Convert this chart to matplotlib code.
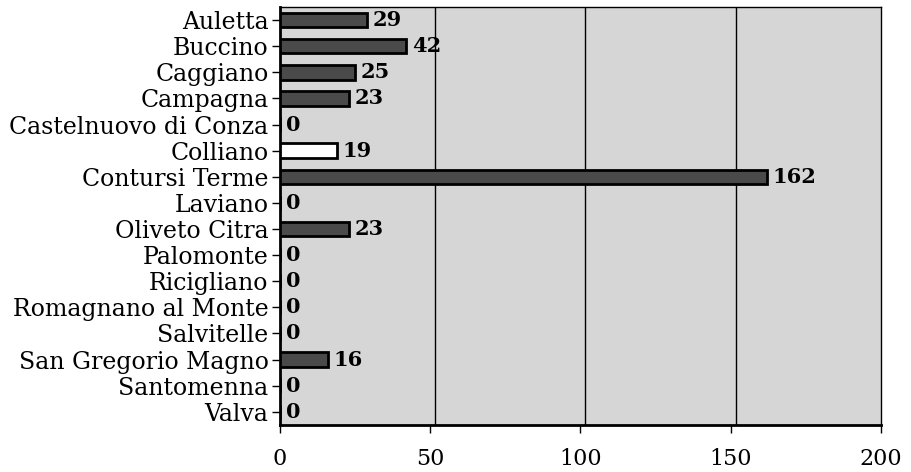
import matplotlib
matplotlib.use("Agg")
import matplotlib.pyplot as plt
import matplotlib.transforms as mtrans
import numpy as np

# dati
comuni = ["Auletta", "Buccino", "Caggiano", "Campagna", "Castelnuovo di Conza",
          "Colliano", "Contursi Terme", "Laviano", "Oliveto Citra", "Palomonte",
          "Ricigliano", "Romagnano al Monte", "Salvitelle", "San Gregorio Magno",
          "Santomenna", "Valva"]
valori = [29, 42, 25, 23, 0, 19, 162, 0, 23, 0, 0, 0, 0, 16, 0, 0]
x_ticks = [0, 50, 100, 150, 200]

plt.rcParams["font.family"] = ["DejaVu Serif"]

fig = plt.figure(figsize=(9.11, 4.72), dpi=100)
ax = fig.add_axes([0.307, 0.10, 0.660, 0.885])

y = np.arange(len(comuni))
colori = ["#4a4a4a"] * len(comuni)
colori[comuni.index("Colliano")] = "white"

ax.set_facecolor("#d6d6d6")
ax.set_xlim(0, 200)
ax.set_ylim(len(comuni) - 0.5, -0.5)

# griglia verticale (parete di fondo leggermente spostata)
sposta = mtrans.ScaledTranslation(5 / 100, 0, fig.dpi_scale_trans)
for t in x_ticks[1:-1]:
    ax.plot([t, t], [0, 1], color="black", lw=1.0,
            transform=ax.get_xaxis_transform() + sposta, zorder=1)

# barre
ax.barh(y, valori, height=0.55, color=colori, edgecolor="black", linewidth=2, zorder=3)
for yi, v in zip(y, valori):
    ax.text(v + 2, yi, str(v), va="center", ha="left", fontsize=15,
            fontweight="bold", zorder=4)

ax.set_yticks(y)
ax.set_yticklabels(comuni, fontsize=17)
ax.set_xticks(x_ticks)
ax.set_xticklabels([str(t) for t in x_ticks], fontsize=16)
ax.tick_params(axis="x", length=6, width=1, pad=11)
ax.tick_params(axis="y", length=6, width=1, pad=2)

for lato in ["left", "bottom"]:
    ax.spines[lato].set_linewidth(2)
for lato in ["top", "right"]:
    ax.spines[lato].set_linewidth(1)

fig.savefig("out.png", dpi=100)
